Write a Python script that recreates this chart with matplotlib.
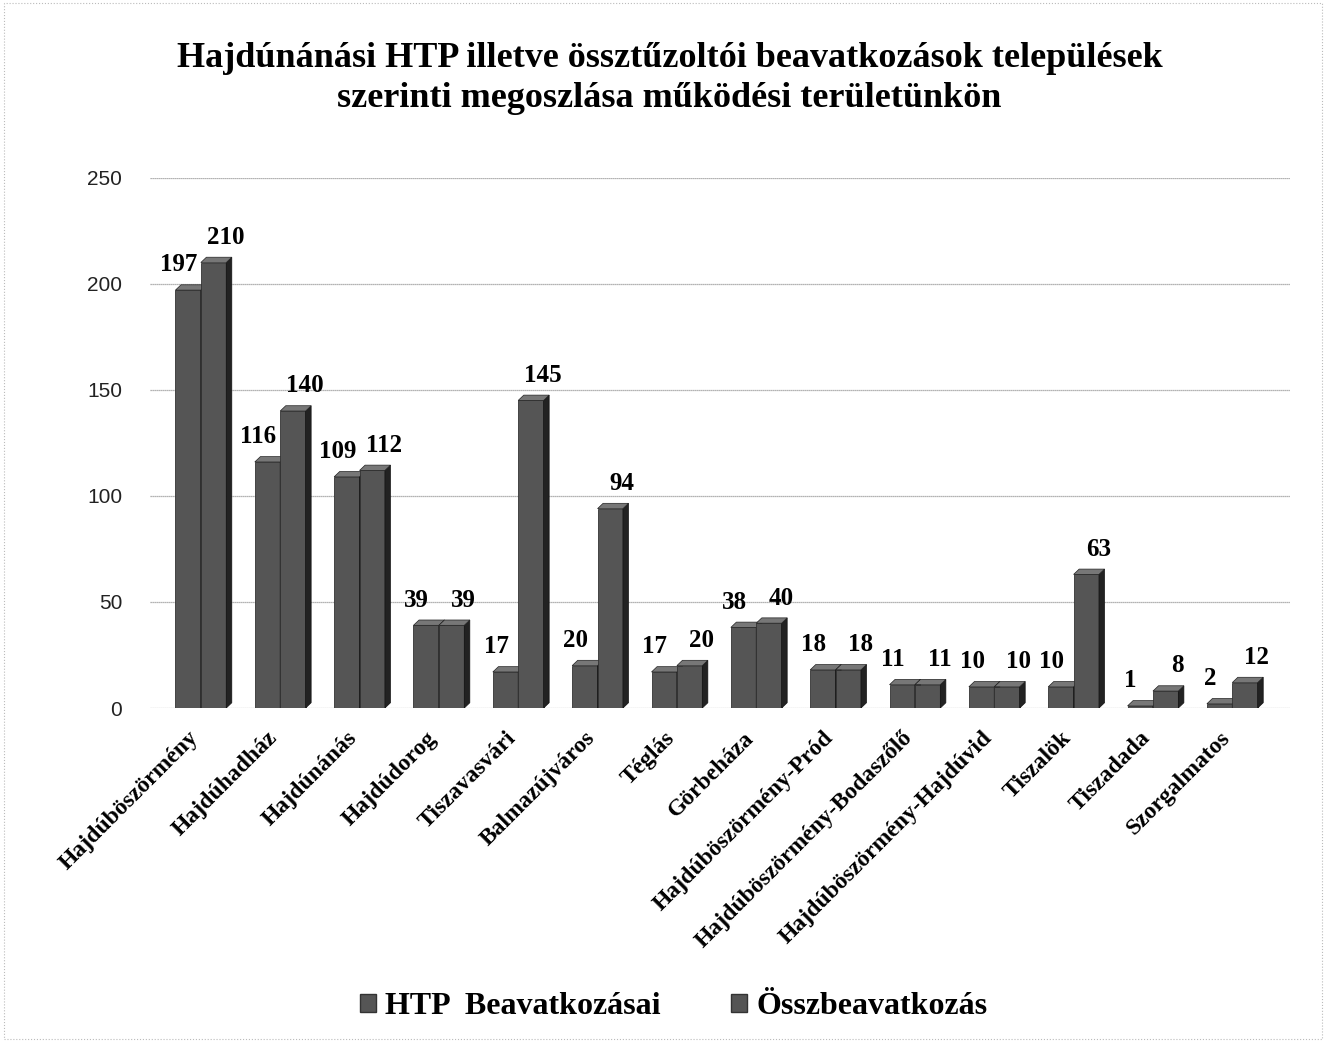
import numpy as np
import matplotlib.pyplot as plt
import matplotlib.transforms as mtransforms
from matplotlib.patches import Polygon, Rectangle

telepulesek = ['Hajdúböszörmény', 'Hajdúhadház', 'Hajdúnánás', 'Hajdúdorog', 'Tiszavasvári',
               'Balmazújváros', 'Téglás', 'Görbeháza', 'Hajdúböszörmény-Pród',
               'Hajdúböszörmény-Bodaszőlő', 'Hajdúböszörmény-Hajdúvid', 'Tiszalök',
               'Tiszadada', 'Szorgalmatos']
htp = [197, 116, 109, 39, 17, 20, 17, 38, 18, 11, 10, 10, 1, 2]
ossz = [210, 140, 112, 39, 145, 94, 20, 40, 18, 11, 10, 63, 8, 12]

plt.rcParams['font.family'] = ['Liberation Serif', 'DejaVu Serif']

fig = plt.figure(figsize=(13.26, 10.42), dpi=100)
ax = fig.add_axes([0.113, 0.3205, 0.86, 0.509])

x = np.arange(len(telepulesek))
w = 0.32
dx, dy = 0.07, 2.5  # melyseg

def bar3d(xs, vals, face, side, top):
    ax.bar(xs, vals, w, color=face, edgecolor='#333333', linewidth=0.6, zorder=3)
    for xi, v in zip(xs, vals):
        r = xi + w / 2
        l = xi - w / 2
        ax.add_patch(Polygon([[r, 0], [r + dx, dy], [r + dx, v + dy], [r, v]],
                             closed=True, facecolor=side, edgecolor='#111111', lw=0.5, zorder=3))
        ax.add_patch(Polygon([[l, v], [l + dx, v + dy], [r + dx, v + dy], [r, v]],
                             closed=True, facecolor=top, edgecolor='#222222', lw=0.5, zorder=3))

bar3d(x - w / 2, htp, '#555555', '#222222', '#777777')
bar3d(x + w / 2, ossz, '#555555', '#222222', '#777777')

for xi, v in zip(x - w / 2, htp):
    ax.annotate(str(v), (xi - 0.12, v + dy), xytext=(0, 6), textcoords='offset points',
                ha='center', va='bottom', fontsize=18, fontweight='bold')
for xi, v in zip(x + w / 2, ossz):
    ax.annotate(str(v), (xi + 0.15, v + dy), xytext=(0, 6), textcoords='offset points',
                ha='center', va='bottom', fontsize=18, fontweight='bold')

ax.set_ylim(0, 250)
ax.set_xlim(-0.643, 13.73)
ax.set_yticks([0, 50, 100, 150, 200, 250])
ax.set_yticklabels(['0', '50', '100', '150', '200', '250'], family='Liberation Sans', fontsize=15, color='#222222')
ax.tick_params(axis='y', length=0, pad=20)
ax.tick_params(axis='x', length=0, pad=14)
ax.set_xticks(x)
ax.set_xticklabels(telepulesek, rotation=45, ha='right', rotation_mode='anchor',
                   fontsize=17, fontweight='bold')
eltolas = mtransforms.ScaledTranslation(-13 / 100, 0, fig.dpi_scale_trans)
for lbl in ax.get_xticklabels():
    lbl.set_transform(lbl.get_transform() + eltolas)
ax.yaxis.grid(True, color='#9a9a9a', lw=0.9, ls=(0, (1, 0.6)), zorder=0)
for s in ax.spines.values():
    s.set_visible(False)

fig.suptitle('Hajdúnánási HTP illetve össztűzoltói beavatkozások települések\n'
             'szerinti megoszlása működési területünkön',
             x=0.505, y=0.96, va='top', fontsize=26, fontweight='bold', linespacing=1.28)

h1 = Rectangle((0, 0), 1, 1, facecolor='#555555', edgecolor='#333333')
h2 = Rectangle((0, 0), 1, 1, facecolor='#555555', edgecolor='#333333')
fig.legend([h1, h2], ['HTP  Beavatkozásai', 'Összbeavatkozás'], loc='center',
           bbox_to_anchor=(0.508, 0.034), ncol=2, frameon=False, handlelength=0.5,
           handleheight=0.5, handletextpad=0.3, columnspacing=2.2,
           prop={'size': 23, 'weight': 'bold'})

fig.patches.append(Rectangle((0.003, 0.003), 0.994, 0.994, transform=fig.transFigure,
                             fill=False, edgecolor='#bbbbbb', lw=0.8, ls=':'))

fig.savefig('out.png', dpi=100)
